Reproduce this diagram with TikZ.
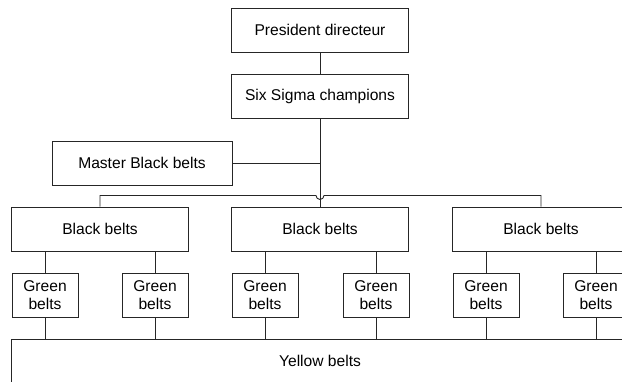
\documentclass[tikz,border=0pt]{standalone}
\usepackage{fontspec}
\setmainfont{Liberation Sans}
\begin{document}
\begin{tikzpicture}[x=1pt,y=-1pt,
  box/.style={draw=black!85, line width=0.9pt, fill=white, inner sep=0pt,
    align=center, font=\fontsize{15.6}{18.5}\selectfont},
  wide/.style={box, minimum width=177, minimum height=44},
  small/.style={box, minimum width=66, minimum height=44},
  link/.style={draw=black!85, line width=0.9pt}]
\useasboundingbox (0,0) rectangle (622,382);
\clip (0,0) rectangle (622,382);

% top of the hierarchy
\node[wide] (pd) at (320,30) {President directeur};
\node[wide] (sc) at (320,96) {Six Sigma champions};
\node[wide, minimum width=180] (mbb) at (142,163) {Master Black belts};

% black belt teams
\node[wide] (bb1) at (100,229) {Black belts};
\node[wide] (bb2) at (320,229) {Black belts};
\node[wide] (bb3) at (541,229) {Black belts};

% green belts under each black belt
\node[small] (g1) at (45,295) {Green\\belts};
\node[small] (g2) at (155,295) {Green\\belts};
\node[small] (g3) at (265,295) {Green\\belts};
\node[small] (g4) at (376,295) {Green\\belts};
\node[small] (g5) at (486,295) {Green\\belts};
\node[small] (g6) at (596,295) {Green\\belts};

% yellow belts band
\node[box, minimum width=618, minimum height=44] (yb) at (320,361) {Yellow belts};

% connectors
\coordinate (j) at (320,163);
\coordinate (bus) at (320,195.5);
\draw[link] (pd) -- (sc);
\draw[link] (sc) -- (bus);
\draw[link] (mbb) -- (j);
\draw[link] (bb1.north) |- (316,195.5) arc[start angle=180, end angle=0, radius=4]
  -- (bb3.north |- bus) -- (bb3.north);
\draw[link] (bus) -- (bb2.north);

\foreach \b/\g in {bb1/g1, bb1/g2, bb2/g3, bb2/g4, bb3/g5, bb3/g6} {
  \draw[link] (\g.north) -- (\g.north |- \b.south);
  \draw[link] (\g.south) -- (\g.south |- yb.north);
}
\end{tikzpicture}
\end{document}
